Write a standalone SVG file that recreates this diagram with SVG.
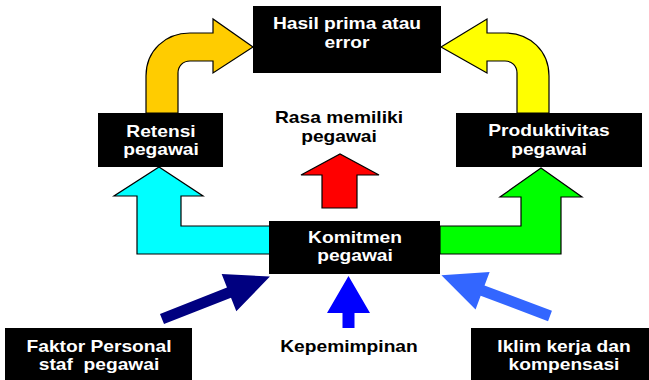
<svg xmlns="http://www.w3.org/2000/svg" width="649" height="380" viewBox="0 0 649 380">
  <defs>
    <style>
      .box { fill: #000000; }
      .arr { stroke: #000000; stroke-width: 1.2; stroke-linejoin: miter; }
      .t { font-family: "Liberation Sans", Arial, sans-serif; font-weight: bold; font-size: 16px; text-anchor: middle; }
      .w { fill: #FFFFFF; }
      .k { fill: #000000; }
    </style>
  </defs>
  <rect width="649" height="380" fill="#FFFFFF"/>

  <g id="connectors">
    <path id="c-retensi-hasil" class="arr" fill="#FFCC00" d="M146,113 V76 C146,51 165,33 190,33 H213 V19 L253,47 L213,73 V61 H190 C183,61 178,66 178,73 V113 Z"/>
    <path id="c-produktivitas-hasil" class="arr" fill="#FFFF00" d="M549,113 V76 C549,51 530,33 505,33 H487 V19 L441,47 L487,73 V61 H505 C512,61 517,66 517,73 V113 Z"/>
    <path id="c-komitmen-retensi" class="arr" fill="#00FFFF" d="M270,226 H181 V196 H203 L159,167 L114,196 H137 V254 H270 Z"/>
    <path id="c-komitmen-produktivitas" class="arr" fill="#00FF00" d="M440,226 H521 V197 H500 L541,168 L582,197 H561 V254 H440 Z"/>
    <path id="c-komitmen-rasa" class="arr" fill="#FF0000" d="M322,208 V175 H301 L340,154 L379,175 H357 V208 Z"/>
    <path id="c-faktor-komitmen" fill="#000080" transform="translate(162,319) rotate(-21.5)" d="M0,-5.5 H72 V-20 L116,0 L72,20 V5.5 H0 Z"/>
    <path id="c-kepemimpinan-komitmen" fill="#0000FF" d="M342.5,328 V313 H327 L348.5,276 L370,313 H354.5 V328 Z"/>
    <path id="c-iklim-komitmen" fill="#3366FF" transform="translate(550,316) rotate(200.6)" d="M0,-5.5 H72 V-20 L116,0 L72,20 V5.5 H0 Z"/>
  </g>

  <g id="hasil">
    <rect class="box" x="253" y="6" width="188" height="67"/>
    <text class="t w" transform="translate(347,0) scale(1.2,1)"><tspan x="0" y="29">Hasil prima atau</tspan><tspan x="0" y="48">error</tspan></text>
  </g>

  <g id="retensi">
    <rect class="box" x="98" y="113" width="125" height="54"/>
    <text class="t w" transform="translate(161,0) scale(1.2,1)"><tspan x="0" y="137">Retensi</tspan><tspan x="0" y="155">pegawai</tspan></text>
  </g>

  <g id="produktivitas">
    <rect class="box" x="456" y="113" width="186" height="54"/>
    <text class="t w" transform="translate(549,0) scale(1.2,1)"><tspan x="0" y="136">Produktivitas</tspan><tspan x="0" y="155">pegawai</tspan></text>
  </g>

  <g id="rasa">
    <text class="t k" transform="translate(339,0) scale(1.2,1)"><tspan x="0" y="123">Rasa memiliki</tspan><tspan x="0" y="142">pegawai</tspan></text>
  </g>

  <g id="komitmen">
    <rect class="box" x="269" y="221" width="171" height="53"/>
    <text class="t w" transform="translate(355,0) scale(1.2,1)"><tspan x="0" y="243">Komitmen</tspan><tspan x="0" y="261">pegawai</tspan></text>
  </g>

  <g id="faktor">
    <rect class="box" x="5" y="328" width="187" height="60"/>
    <text class="t w" transform="translate(99,0) scale(1.2,1)"><tspan x="0" y="352">Faktor Personal</tspan><tspan x="0" y="370" xml:space="preserve">staf  pegawai</tspan></text>
  </g>

  <g id="kepemimpinan">
    <text class="t k" transform="translate(349,0) scale(1.2,1)"><tspan x="0" y="352">Kepemimpinan</tspan></text>
  </g>

  <g id="iklim">
    <rect class="box" x="471" y="328" width="190" height="60"/>
    <text class="t w" transform="translate(564,0) scale(1.2,1)"><tspan x="0" y="352">Iklim kerja dan</tspan><tspan x="0" y="370">kompensasi</tspan></text>
  </g>
</svg>
